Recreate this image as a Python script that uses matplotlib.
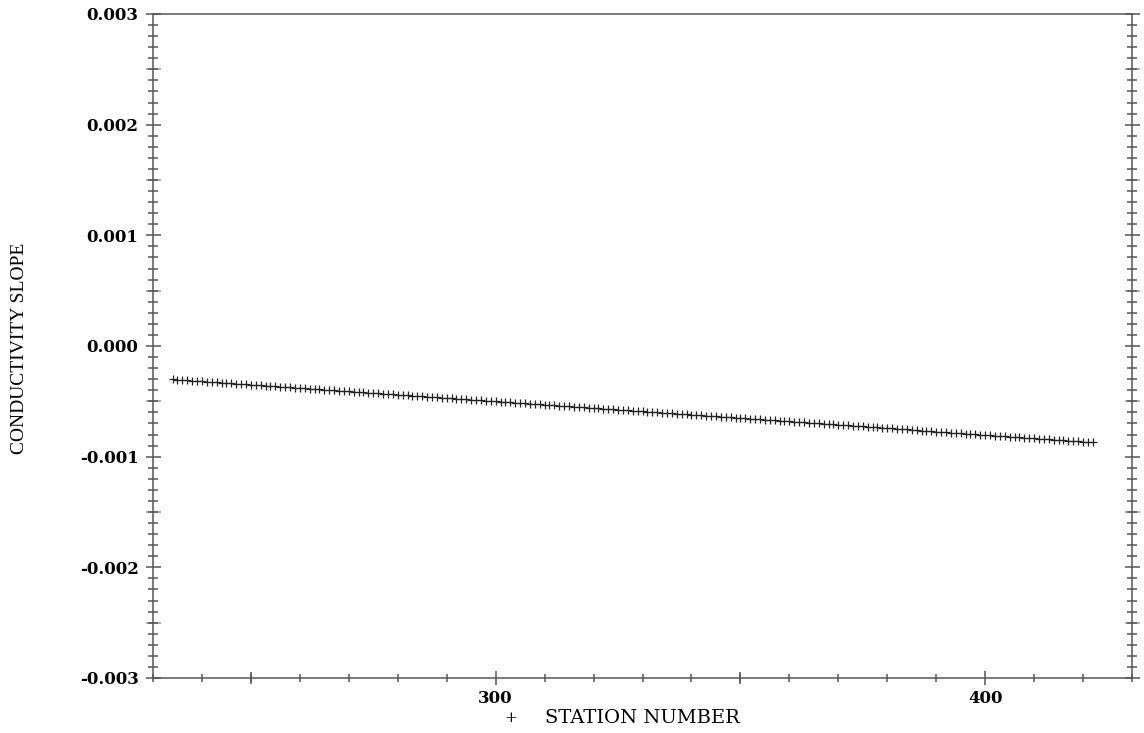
import numpy as np
import matplotlib
matplotlib.use("Agg")
import matplotlib.pyplot as plt  # noqa: E402
from matplotlib.ticker import MultipleLocator, FixedLocator  # noqa: E402

# station numbers and fitted conductivity slope (units of 1e-6)
stations = list(range(234, 423))
slope_1e6 = [
    -300, -303, -306, -309, -312, -315, -318, -321, -324, -327,
    -330, -333, -336, -339, -342, -345, -348, -352, -355, -358,
    -361, -364, -367, -370, -373, -376, -379, -382, -385, -388,
    -391, -394, -397, -400, -403, -406, -409, -412, -415, -418,
    -421, -424, -427, -430, -433, -436, -439, -442, -445, -448,
    -452, -455, -458, -461, -464, -467, -470, -473, -476, -479,
    -482, -485, -488, -491, -494, -497, -500, -503, -506, -509,
    -512, -515, -518, -521, -524, -527, -530, -533, -536, -539,
    -542, -545, -548, -551, -555, -558, -561, -564, -567, -570,
    -573, -576, -579, -582, -585, -588, -591, -594, -597, -600,
    -603, -606, -609, -612, -615, -618, -621, -624, -627, -630,
    -633, -636, -639, -642, -645, -648, -651, -655, -658, -661,
    -664, -667, -670, -673, -676, -679, -682, -685, -688, -691,
    -694, -697, -700, -703, -706, -709, -712, -715, -718, -721,
    -724, -727, -730, -733, -736, -739, -742, -745, -748, -751,
    -754, -758, -761, -764, -767, -770, -773, -776, -779, -782,
    -785, -788, -791, -794, -797, -800, -803, -806, -809, -812,
    -815, -818, -821, -824, -827, -830, -833, -836, -839, -842,
    -845, -848, -851, -854, -858, -861, -864, -867, -870,
]
slope = np.array(slope_1e6) * 1e-6

y_ticks = [-0.003, -0.002, -0.001, 0.0, 0.001, 0.002, 0.003]
y_labels = ["-0.003", "-0.002", "-0.001", "0.000", "0.001", "0.002", "0.003"]
x_ticks = [300, 400]
x_mid_ticks = [250, 350]
y_mid_ticks = [-0.0025, -0.0015, -0.0005, 0.0005, 0.0015, 0.0025]

AX_COL = "#555555"
SERIF = ["DejaVu Serif"]
LW = 1.1

fig = plt.figure(figsize=(11.44, 7.33), dpi=100)
ax = fig.add_axes([153 / 1144, 55 / 733, 979 / 1144, 664 / 733])

ax.plot(stations, slope, linestyle="none", marker="+", markersize=5.5,
        markeredgewidth=0.9, color="#222222")

ax.set_xlim(230, 430)
ax.set_ylim(-0.003, 0.003)

for s in ax.spines.values():
    s.set_color(AX_COL)
    s.set_linewidth(LW)

ax.xaxis.set_major_locator(FixedLocator(x_ticks))
ax.xaxis.set_minor_locator(MultipleLocator(10))
ax.set_yticks(y_ticks)
ax.set_yticklabels(y_labels)
ax.yaxis.set_minor_locator(MultipleLocator(0.0001))

ax.tick_params(axis="x", which="major", direction="inout", length=9.4, width=LW,
               color=AX_COL, pad=4, top=False)
ax.tick_params(axis="x", which="minor", direction="inout", length=5.8, width=LW,
               color=AX_COL, top=False)
ax.tick_params(axis="y", which="major", direction="inout", length=10.8, width=LW,
               color=AX_COL, left=True, right=True, pad=5)
ax.tick_params(axis="y", which="minor", direction="inout", length=6.5, width=LW,
               color=AX_COL, left=True, right=True)

for lab in ax.get_xticklabels() + ax.get_yticklabels():
    lab.set_family(SERIF)
    lab.set_fontweight("bold")
    lab.set_fontsize(12)

# medium-length ticks at the half steps
secx = ax.secondary_xaxis("bottom")
secx.set_xticks(x_mid_ticks)
secx.tick_params(direction="inout", length=8, width=LW, color=AX_COL,
                 labelbottom=False)
secx.spines["bottom"].set_visible(False)
for side in ("left", "right"):
    secy = ax.secondary_yaxis(side)
    secy.set_yticks(y_mid_ticks)
    secy.tick_params(direction="inout", length=10.8, width=LW, color="#999999",
                     labelleft=False, labelright=False)
    secy.spines[side].set_visible(False)

fig.text(19.5 / 1144, 1 - 348 / 733, "CONDUCTIVITY SLOPE", rotation=90,
         ha="center", va="center", family=["Liberation Serif"], fontsize=14)
fig.text(511 / 1144, 1 - 718 / 733, "+", ha="center", va="center",
         family=SERIF, fontsize=11)
fig.text(545 / 1144, 1 - 718 / 733, "STATION NUMBER", ha="left", va="center",
         family=SERIF, fontsize=14)

fig.savefig("out.png", dpi=100)
